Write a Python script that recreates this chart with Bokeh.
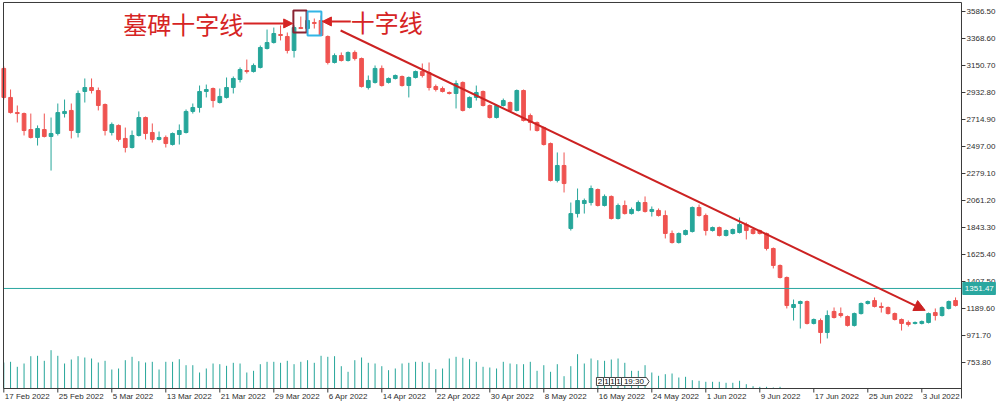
import pandas as pd
from bokeh.plotting import figure
from bokeh.models import ColumnDataSource, Range1d, Arrow, NormalHead
from bokeh.core.properties import value
from bokeh.embed import file_html
from bokeh.resources import INLINE

# ETH/USD daily bars, 17 Feb 2022 - 8 Jul 2022
dates = pd.date_range("2022-02-17", "2022-07-08", freq="D")

opens = [
    3127, 2893, 2771, 2763, 2634, 2570, 2634, 2578, 2602, 2763,
    2788, 2610, 2941, 2973, 2949, 2836, 2610, 2667, 2562, 2489,
    2586, 2731, 2610, 2554, 2570, 2513, 2594, 2610, 2780, 2812,
    2941, 2965, 2852, 2893, 2973, 3038, 3110, 3102, 3135, 3288,
    3336, 3401, 3385, 3272, 3457, 3449, 3498, 3514, 3385, 3175,
    3231, 3191, 3256, 3207, 2973, 3014, 3127, 3014, 3046, 3062,
    2989, 3054, 3102, 3094, 2981, 2965, 2933, 2925, 3014, 2812,
    2893, 2941, 2828, 2731, 2828, 2852, 2788, 2949, 2747, 2691,
    2650, 2521, 2223, 2344, 1835, 1956, 2037, 2045, 2150, 2021,
    2094, 1916, 2021, 1956, 1981, 2045, 1973, 1981, 1940, 1795,
    1722, 1787, 1811, 2005, 1940, 1819, 1843, 1779, 1795, 1803,
    1868, 1827, 1819, 1795, 1674, 1537, 1440, 1198, 1230, 1246,
    1069, 1093, 996, 1166, 1149, 1125, 1053, 1149, 1230, 1254,
    1206, 1198, 1149, 1101, 1077, 1069, 1069, 1077, 1157, 1133,
    1190, 1254,
]
highs = [
    3143, 2957, 2828, 2771, 2763, 2667, 2763, 2731, 2844, 2876,
    2844, 2949, 3046, 3046, 2973, 2844, 2691, 2675, 2650, 2626,
    2780, 2739, 2683, 2618, 2586, 2610, 2675, 2796, 2844, 2989,
    2997, 2973, 2965, 3054, 3062, 3135, 3199, 3167, 3312, 3441,
    3457, 3474, 3417, 3474, 3546, 3530, 3530, 3554, 3393, 3248,
    3256, 3264, 3272, 3215, 3070, 3151, 3151, 3054, 3078, 3070,
    3062, 3110, 3167, 3175, 2997, 2981, 2941, 3030, 3022, 2901,
    2989, 2949, 2836, 2836, 2884, 2860, 2957, 2957, 2763, 2699,
    2658, 2529, 2449, 2449, 2045, 2158, 2077, 2182, 2158, 2110,
    2102, 2037, 2061, 2005, 2061, 2094, 2013, 1997, 1981, 1819,
    1803, 1827, 2013, 2029, 1956, 1851, 1851, 1827, 1835, 1924,
    1884, 1835, 1827, 1803, 1682, 1545, 1448, 1262, 1254, 1254,
    1109, 1109, 1174, 1198, 1198, 1133, 1157, 1238, 1254, 1279,
    1238, 1206, 1157, 1109, 1093, 1085, 1093, 1157, 1190, 1206,
    1254, 1279,
]
lows = [
    2876, 2763, 2691, 2586, 2562, 2505, 2570, 2303, 2586, 2731,
    2562, 2570, 2852, 2925, 2788, 2586, 2586, 2537, 2449, 2481,
    2578, 2554, 2529, 2546, 2489, 2505, 2513, 2602, 2763, 2771,
    2893, 2812, 2844, 2884, 2925, 3014, 3086, 3094, 3127, 3280,
    3328, 3353, 3248, 3215, 3447, 3433, 3449, 3409, 3159, 3167,
    3183, 3183, 3191, 2973, 2957, 3005, 2981, 3005, 3038, 2981,
    2893, 3046, 3054, 2949, 2941, 2933, 2917, 2804, 2780, 2804,
    2868, 2820, 2723, 2723, 2820, 2780, 2780, 2699, 2626, 2618,
    2505, 2215, 2207, 2126, 1819, 1924, 1956, 2021, 2013, 2013,
    1908, 1908, 1948, 1948, 1973, 1964, 1932, 1932, 1755, 1714,
    1714, 1779, 1803, 1932, 1779, 1811, 1771, 1771, 1787, 1795,
    1747, 1787, 1787, 1658, 1513, 1432, 1190, 1093, 1028, 1061,
    1061, 907, 948, 1109, 1117, 1044, 1044, 1141, 1222, 1198,
    1157, 1141, 1093, 1012, 1044, 1061, 1061, 1069, 1093, 1125,
    1182, 1206,
]
closes = [
    2893, 2771, 2763, 2626, 2570, 2642, 2578, 2602, 2771, 2780,
    2626, 2925, 2973, 2949, 2828, 2626, 2675, 2554, 2489, 2586,
    2731, 2602, 2554, 2570, 2521, 2602, 2626, 2780, 2812, 2941,
    2957, 2868, 2901, 2973, 3046, 3118, 3102, 3151, 3296, 3336,
    3409, 3393, 3272, 3457, 3449, 3514, 3490, 3393, 3175, 3231,
    3191, 3256, 3207, 2981, 3030, 3127, 2989, 3046, 3070, 2989,
    3054, 3102, 3070, 2973, 2957, 2941, 2925, 3005, 2788, 2893,
    2933, 2828, 2731, 2828, 2868, 2788, 2949, 2707, 2691, 2626,
    2513, 2223, 2344, 2198, 1956, 2061, 2061, 2158, 2021, 2094,
    1916, 2021, 1956, 1989, 2045, 1973, 1989, 1940, 1795, 1722,
    1795, 1819, 2005, 1940, 1819, 1843, 1779, 1819, 1827, 1868,
    1819, 1795, 1795, 1674, 1537, 1440, 1214, 1222, 1246, 1069,
    1101, 996, 1133, 1117, 1133, 1053, 1149, 1230, 1246, 1206,
    1198, 1149, 1101, 1069, 1061, 1077, 1085, 1149, 1133, 1198,
    1246, 1214,
]
volumes = [
    2600, 2670, 2170, 2500, 3230, 3270, 2770, 3830, 3270, 2500,
    2900, 3230, 3100, 3000, 2600, 2770, 1900, 2000, 2830, 3170,
    2730, 2600, 2670, 1900, 2670, 2670, 2930, 2330, 2330, 1600,
    2000, 2500, 2430, 2270, 2570, 2500, 1600, 1770, 2430, 2670,
    2670, 2570, 2770, 2430, 2670, 2830, 2570, 3270, 3170, 3230,
    2230, 1670, 2830, 3100, 2570, 2500, 2230, 1830, 2000, 2500,
    2570, 2670, 2670, 2570, 1930, 2000, 3000, 3170, 3070, 2930,
    2670, 2170, 2100, 2000, 2670, 2500, 2430, 2430, 2670, 1770,
    2330, 1670, 2430, 1230, 2230, 3430, 2500, 3000, 2830, 2770,
    2900, 3000, 2570, 1770, 1770, 2330, 1600, 1270, 1430, 1500,
    1100, 1170, 830, 770, 670, 670, 670, 570, 570, 770,
    430, 230, 170, 170, 100, 170, 0, 0, 0, 0,
    0, 0, 0, 0, 0, 0, 0, 0, 0, 0,
    0, 0, 0, 0, 0, 0, 0, 0, 0, 0,
    0, 0,
]

price_ticks = [753.80, 971.70, 1189.60, 1407.50, 1625.40, 1843.30, 2061.20,
               2279.10, 2497.00, 2714.90, 2932.80, 3150.70, 3368.60, 3586.50]
date_ticks = ["2022-02-17", "2022-02-25", "2022-03-05", "2022-03-13", "2022-03-21",
              "2022-03-29", "2022-04-06", "2022-04-14", "2022-04-22", "2022-04-30",
              "2022-05-08", "2022-05-16", "2022-05-24", "2022-06-01", "2022-06-09",
              "2022-06-17", "2022-06-25", "2022-07-03"]
date_tick_labels = ["17 Feb 2022", "25 Feb 2022", "5 Mar 2022", "13 Mar 2022",
                    "21 Mar 2022", "29 Mar 2022", "6 Apr 2022", "14 Apr 2022",
                    "22 Apr 2022", "30 Apr 2022", "8 May 2022", "16 May 2022",
                    "24 May 2022", "1 Jun 2022", "9 Jun 2022", "17 Jun 2022",
                    "25 Jun 2022", "3 Jul 2022"]
last_price = 1351.47

UP = "#26a69a"
DOWN = "#ef5350"
MARK = "#d62424"
FRAME = "#3a3a3a"
TAG = "#2aa7a0"
AXIS_FONT = "Liberation Sans"
AXIS_SIZE = "8px"
AXIS_TEXT = "#2e2e2e"

# chart area inside the canvas (bar index / price units), price scale to its right
X_LEFT, X_RIGHT = -0.044, 141.88
Y_BOTTOM, Y_TOP = 544.1, 3659.2
TICK_X = 0.59      # 4 px along the bar-index axis
TICK_Y = 32.3      # 4 px along the price axis

idx = list(range(len(dates)))
colors = [UP if c >= o else DOWN for o, c in zip(opens, closes)]
src = ColumnDataSource(dict(
    x=idx, open=opens, high=highs, low=lows, close=closes, vol=volumes,
    top=[max(o, c) for o, c in zip(opens, closes)],
    bottom=[min(o, c) for o, c in zip(opens, closes)],
    color=colors,
))

p = figure(width=1000, height=405, output_backend="svg", toolbar_location=None,
           x_range=Range1d(-0.489, 147.659), y_range=Range1d(406.95, 3675.3),
           x_axis_location=None, y_axis_location=None,
           min_border=0, min_border_left=0, min_border_right=0,
           min_border_top=0, min_border_bottom=0)
p.background_fill_color = "white"
p.border_fill_color = "white"
p.outline_line_color = None
p.xgrid.visible = False
p.ygrid.visible = False

# volume histogram on its own scale along the bottom of the chart area
p.extra_y_ranges = {"vol": Range1d(-1700, 38800)}
p.segment(x0="x", y0=0, x1="x", y1="vol", y_range_name="vol", source=src,
          line_color=UP, line_width=1)

# candles
p.segment(x0="x", y0="low", x1="x", y1="high", source=src, line_color="color", line_width=1)
p.vbar(x="x", width=0.55, top="top", bottom="bottom", source=src,
       fill_color="color", line_color="color", line_width=1)

# last price line
p.segment(x0=[X_LEFT], y0=[last_price], x1=[X_RIGHT], y1=[last_price],
          line_color=TAG, line_width=1)

# chart frame: left and top edges, time axis, price axis
p.segment(x0=[X_LEFT, X_LEFT, X_LEFT, X_RIGHT],
          y0=[Y_BOTTOM, Y_TOP, Y_BOTTOM, Y_TOP],
          x1=[X_LEFT, X_RIGHT, X_RIGHT, X_RIGHT],
          y1=[Y_TOP, Y_TOP, Y_BOTTOM, 463.5],
          line_color=FRAME, line_width=1)

# price scale
p.segment(x0=[X_RIGHT] * len(price_ticks), y0=price_ticks,
          x1=[X_RIGHT + TICK_X] * len(price_ticks), y1=price_ticks,
          line_color=FRAME, line_width=1)
p.text(x=[X_RIGHT + 0.75] * len(price_ticks), y=price_ticks,
       text=[f"{t:.2f}" for t in price_ticks], text_font=value(AXIS_FONT),
       text_font_size=AXIS_SIZE, text_color=AXIS_TEXT, text_align="left",
       text_baseline="middle")

# time scale: ticks with labels starting at each tick
tick_pos = [dates.get_loc(pd.Timestamp(d)) for d in date_ticks]
p.segment(x0=tick_pos, y0=[Y_BOTTOM] * len(tick_pos),
          x1=tick_pos, y1=[Y_BOTTOM - TICK_Y] * len(tick_pos),
          line_color=FRAME, line_width=1)
p.text(x=tick_pos, y=[515] * len(tick_pos), text=date_tick_labels, x_offset=1,
       text_font=value(AXIS_FONT), text_font_size=AXIS_SIZE, text_color=AXIS_TEXT,
       text_align="left", text_baseline="top")

# last price tag on the price scale
p.quad(left=[X_RIGHT + 0.2], right=[146.9], top=[1399.6], bottom=[1302.7],
       fill_color=TAG, line_color=TAG)
p.text(x=[X_RIGHT + 0.5], y=[last_price], text=[f"{last_price:.2f}"],
       text_font=value(AXIS_FONT), text_font_size=AXIS_SIZE, text_color="white",
       text_align="left", text_baseline="middle")

# pattern boxes
p.quad(left=[42.9], right=[44.85], top=[3595], bottom=[3417],
       fill_color=None, line_color="#8a2433", line_width=2)
p.quad(left=[45.0], right=[47.05], top=[3587], bottom=[3393],
       fill_color=None, line_color="#33b5e5", line_width=2)

# annotations
p.text(x=[17.7], y=[3490], text=["墓碑十字线"], text_font=value("Noto Sans CJK SC"),
       text_font_size="24px", text_color=MARK, text_baseline="middle", text_align="left")
p.text(x=[51.4], y=[3506], text=["十字线"], text_font=value("Noto Sans CJK SC"),
       text_font_size="24px", text_color=MARK, text_baseline="middle", text_align="left")
p.add_layout(Arrow(end=NormalHead(size=9, fill_color=MARK, line_color=MARK),
                   x_start=35.5, y_start=3490, x_end=42.8, y_end=3490,
                   line_color=MARK, line_width=2))
p.add_layout(Arrow(end=NormalHead(size=9, fill_color=MARK, line_color=MARK),
                   x_start=51.4, y_start=3506, x_end=47.2, y_end=3506,
                   line_color=MARK, line_width=2))

# downtrend line
p.add_layout(Arrow(end=NormalHead(size=11, fill_color="#cc2222", line_color="#cc2222"),
                   x_start=49.9, y_start=3433, x_end=136.5, y_end=1175,
                   line_color="#cc2222", line_width=2))

# tick-count tag in the volume pane
edges = [87.8, 88.84, 89.73, 90.62, 91.51]
p.quad(left=edges[:-1], right=edges[1:], top=[633] * 4, bottom=[568] * 4,
       fill_color="white", line_color="#444444", line_width=1)
p.patch(x=[91.51, 95.2, 95.6, 95.2, 91.51], y=[633, 633, 600, 568, 568],
        fill_color="white", line_color="#444444", line_width=1)
p.text(x=[88.32, 89.29, 90.18, 91.07, 93.35], y=[600] * 5,
       text=["2", "1", "1", "1", "19:30"], text_font=value("Liberation Sans"),
       text_font_size="8px", text_color="#111111", text_align="center",
       text_baseline="middle")

open("out.html", "w").write(file_html(p, INLINE))
